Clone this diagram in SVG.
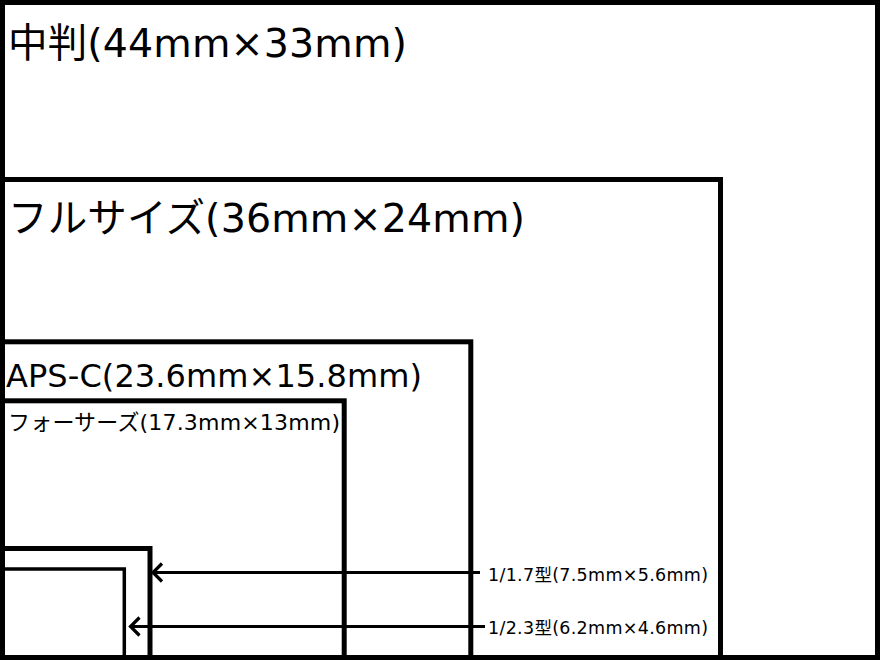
<svg xmlns="http://www.w3.org/2000/svg" width="880" height="660" viewBox="0 0 880 660">
<defs>
<style>
.frame{fill:none;stroke:#000;stroke-width:5}
.thin{fill:none;stroke:#000;stroke-width:3.5}
.conn{fill:none;stroke:#000;stroke-width:3.2}
text{font-family:"DejaVu Sans","Noto Sans CJK JP",sans-serif;fill:#000}
</style>
</defs>
<rect x="0" y="0" width="880" height="660" fill="#fff"/>
<g id="medium-format">
<rect class="frame" x="2.5" y="2.5" width="875" height="655"/>
<text x="8" y="57" font-size="39.5" textLength="399" lengthAdjust="spacing">中判(44mm×33mm)</text>
</g>
<g id="full-size">
<rect class="frame" x="2.5" y="179.5" width="718" height="478"/>
<text x="8" y="232" font-size="39.5" textLength="517" lengthAdjust="spacing">フルサイズ(36mm×24mm)</text>
</g>
<g id="aps-c">
<rect class="frame" x="2.5" y="341.8" width="468.3" height="315.7"/>
<text x="6" y="387" font-size="32" textLength="416" lengthAdjust="spacing">APS-C(23.6mm×15.8mm)</text>
</g>
<g id="four-thirds">
<rect class="frame" x="2.5" y="400.8" width="341.7" height="256.7"/>
<text x="8" y="429.5" font-size="22" textLength="332" lengthAdjust="spacing">フォーサーズ(17.3mm×13mm)</text>
</g>
<g id="type-1-1.7">
<rect class="frame" x="2.5" y="548.5" width="147.5" height="109"/>
<text x="488" y="581" font-size="17.5" textLength="220" lengthAdjust="spacing">1/1.7型(7.5mm×5.6mm)</text>
</g>
<g id="type-1-2.3">
<rect class="thin" x="2.5" y="569" width="121.8" height="88.5"/>
<text x="488" y="633.5" font-size="17.5" textLength="220" lengthAdjust="spacing">1/2.3型(6.2mm×4.6mm)</text>
</g>
<g id="connectors">
<path class="conn" d="M480 572.5H153"/>
<path class="conn" d="M162 563.5L153 572.5L162 581.5"/>
<path class="conn" d="M485 626.5H130"/>
<path class="conn" d="M139.5 617.5L130.5 626.5L139.5 635.5"/>
</g>
</svg>
